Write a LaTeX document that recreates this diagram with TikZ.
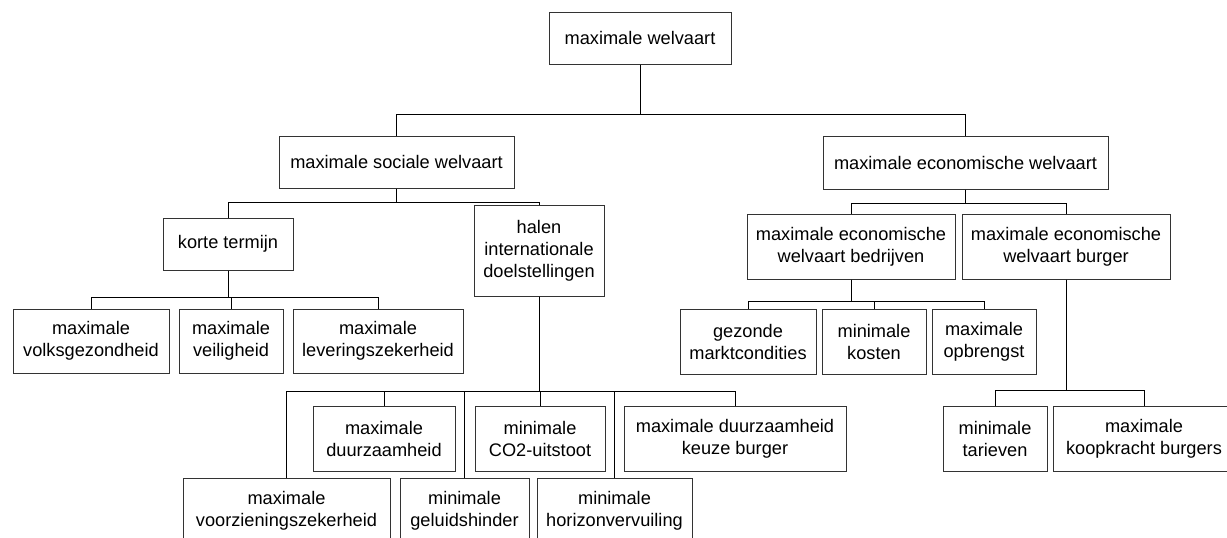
\documentclass[tikz,border=0pt]{standalone}
\usepackage{fontspec}
\setmainfont{Liberation Sans}
\begin{document}
\begin{tikzpicture}[x=0.5pt,y=-0.5pt]
        \tikzstyle{goal}=[draw=black!80,fill=white,align=center,inner sep=0pt,line width=0.5pt,font=\fontsize{9.1}{11}\selectfont]
        \tikzstyle{edge}=[draw, black, line width=0.5pt]
        \useasboundingbox (0,0) rectangle (1227,537);
       \begin{scope}
         % top
         \node [goal, minimum width=91pt, minimum height=26pt] (root) at (640,38) {maximale welvaart};
         \node [goal, minimum width=117.5pt, minimum height=26pt] (soc) at (396.5,162) {maximale sociale welvaart};
         \node [goal, minimum width=142.5pt, minimum height=26.5pt] (eco) at (965.5,162.5) {maximale economische welvaart};
         % social side
         \node [goal, minimum width=65pt, minimum height=26pt] (korte) at (228,244) {korte termijn};
         \node [goal, minimum width=65pt, minimum height=45.5pt] (halen) at (539,250.5) {halen\\internationale\\doelstellingen};
         \node [goal, minimum width=78pt, minimum height=32pt] (volks) at (91,341) {maximale\\volksgezondheid};
         \node [goal, minimum width=52pt, minimum height=32pt] (veil) at (231,341) {maximale\\veiligheid};
         \node [goal, minimum width=85pt, minimum height=32pt] (lever) at (378,341) {maximale\\leveringszekerheid};
         \node [goal, minimum width=71pt, minimum height=32.5pt] (duurz) at (384,438.5) {maximale\\duurzaamheid};
         \node [goal, minimum width=65pt, minimum height=32.5pt] (co2) at (540,438.5) {minimale\\CO2-uitstoot};
         \node [goal, minimum width=111pt, minimum height=32.5pt] (keuze) at (735,438.5) {maximale duurzaamheid\\keuze burger};
         \node [goal, minimum width=103.5pt, minimum height=32.5pt] (voorz) at (286.5,510.5) {maximale\\voorzieningszekerheid};
         \node [goal, minimum width=64.5pt, minimum height=32.5pt] (geluid) at (464.5,510.5) {minimale\\geluidshinder};
         \node [goal, minimum width=77.5pt, minimum height=32.5pt] (horizon) at (614.5,510.5) {minimale\\horizonvervuiling};
         % economic side
         \node [goal, minimum width=104pt, minimum height=32.5pt] (bedr) at (851,246.5) {maximale economische\\welvaart bedrijven};
         \node [goal, minimum width=104pt, minimum height=32.5pt] (burg) at (1066,246.5) {maximale economische\\welvaart burger};
         \node [goal, minimum width=68pt, minimum height=32.5pt] (markt) at (748,341.5) {gezonde\\marktcondities};
         \node [goal, minimum width=52pt, minimum height=32.5pt] (kosten) at (874,341.5) {minimale\\kosten};
         \node [goal, minimum width=52pt, minimum height=32.5pt] (opbr) at (984,341.5) {maximale\\opbrengst};
         \node [goal, minimum width=52pt, minimum height=32.5pt] (tarief) at (995,438.5) {minimale\\tarieven};
         \node [goal, minimum width=91pt, minimum height=32.5pt] (koop) at (1144,438.5) {maximale\\koopkracht burgers};
         % bars
         \coordinate (b0) at (0,114);
         \coordinate (b1) at (0,202);
         \coordinate (b2) at (0,203);
         \coordinate (b3) at (0,297);
         \coordinate (b4) at (0,301);
         \coordinate (b5) at (0,391);
         \coordinate (b6) at (0,390);
         \foreach \c in {soc,eco}
           \path[edge] (root.south) -- (root.south |- b0) -| (\c.north);
         \foreach \c in {korte,halen}
           \path[edge] (soc.south) -- (soc.south |- b1) -| (\c.north);
         \foreach \c in {bedr,burg}
           \path[edge] (eco.south) -- (eco.south |- b2) -| (\c.north);
         \foreach \c in {volks,veil,lever}
           \path[edge] (korte.south) -- (korte.south |- b3) -| (\c.north);
         \foreach \c in {markt,kosten,opbr}
           \path[edge] (bedr.south) -- (bedr.south |- b4) -| (\c.north);
         \foreach \c in {duurz,co2,keuze,voorz,geluid,horizon}
           \path[edge] (halen.south) -- (halen.south |- b5) -| (\c.north);
         \foreach \c in {tarief,koop}
           \path[edge] (burg.south) -- (burg.south |- b6) -| (\c.north);
        \end{scope}
      \end{tikzpicture}
\end{document}
